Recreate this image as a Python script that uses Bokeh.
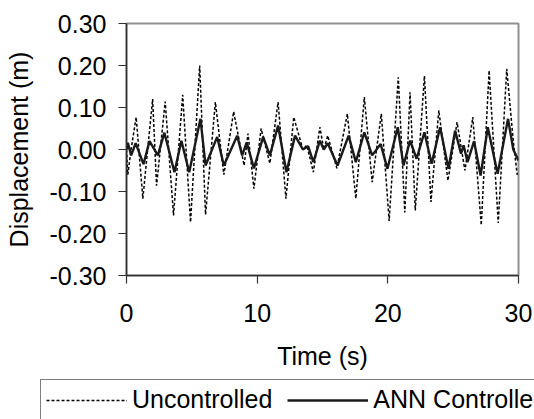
from bokeh.plotting import figure
from bokeh.layouts import column
from bokeh.models import Range1d, FixedTicker, PrintfTickFormatter, Legend, LegendItem
from bokeh.embed import file_html
from bokeh.resources import INLINE

# Uncontrolled displacement (m), read at extrema
t_unc = [0.0, 0.1, 0.35, 0.74, 1.25, 2.0, 2.3, 2.96, 3.6, 4.3, 4.9, 5.6, 6.05, 6.8, 7.45,
         8.2, 9.0, 9.3, 9.75, 10.3, 10.97, 11.6, 12.2, 12.8, 13.5, 13.8, 14.3, 14.8, 15.1,
         15.4, 16.1, 16.9, 17.55, 18.2, 18.8, 19.5, 20.1, 20.8, 21.3, 21.7, 22.1, 22.8,
         23.3, 23.9, 24.6, 25.3, 25.9, 26.5, 27.15, 27.75, 28.45, 29.1, 29.6, 29.9, 30.0]
y_unc = [0.0, -0.06, 0.0, 0.077, -0.117, 0.12, -0.086, 0.114, -0.157, 0.13, -0.173, 0.20,
         -0.155, 0.113, -0.06, 0.09, -0.038, 0.038, -0.093, 0.05, -0.033, 0.113, -0.117,
         0.077, 0.0, 0.01, -0.054, 0.053, 0.0, 0.033, -0.045, 0.085, -0.117, 0.125, -0.078,
         0.085, -0.17, 0.172, -0.15, 0.136, -0.145, 0.175, -0.125, 0.093, -0.074, 0.065,
         -0.05, 0.077, -0.18, 0.188, -0.175, 0.192, 0.02, -0.06, -0.055]

# ANN controlled displacement (m), read at extrema
t_ann = [0.0, 0.1, 0.36, 0.7, 1.3, 1.76, 2.4, 2.9, 3.67, 4.2, 4.8, 5.66, 6.05, 6.94, 7.45,
         8.47, 8.85, 9.2, 9.75, 10.46, 10.97, 11.6, 12.24, 12.9, 13.5, 13.9, 14.3, 14.8,
         15.1, 15.4, 16.15, 17.0, 17.55, 18.2, 18.8, 19.45, 19.97, 20.76, 21.2, 21.7, 22.2,
         22.8, 23.35, 24.0, 24.64, 25.15, 25.6, 25.8, 26.1, 26.6, 27.1, 27.65, 28.4, 29.2,
         29.6, 30.0]
y_ann = [0.0, 0.016, -0.014, 0.015, -0.035, 0.02, -0.014, 0.04, -0.054, 0.021, -0.054, 0.073,
         -0.038, 0.03, -0.038, 0.033, -0.014, 0.017, -0.045, 0.03, -0.014, 0.057, -0.054,
         0.033, 0.0, 0.008, -0.03, 0.021, 0.0, 0.015, -0.038, 0.033, -0.03, 0.041, -0.014,
         0.013, -0.046, 0.053, -0.038, 0.021, -0.022, 0.041, -0.034, 0.053, -0.046, 0.045,
         -0.01, 0.01, -0.03, 0.02, -0.062, 0.053, -0.058, 0.073, 0.0, -0.026]

x_ticks = [0, 10, 20, 30]
y_ticks = [-0.3, -0.2, -0.1, 0.0, 0.1, 0.2, 0.3]
series_names = ["Uncontrolled", "ANN Controlled"]

FONT = "Liberation Sans"
FS = "25px"
UNC_STYLE = dict(line_color="black", line_width=1.5, line_dash="3 2")
ANN_STYLE = dict(line_color="#1a1a1a", line_width=2.4)

p = figure(width=534, height=377, output_backend="svg", toolbar_location=None,
           x_range=Range1d(0, 30), y_range=Range1d(-0.3, 0.3),
           min_border_left=126, min_border_right=16, min_border_top=23,
           min_border_bottom=102)
p.frame_align = False
p.xgrid.visible = False
p.ygrid.visible = False
p.outline_line_color = "#909090"
p.outline_line_width = 2

p.line(t_unc, y_unc, **UNC_STYLE)
p.line(t_ann, y_ann, **ANN_STYLE)

for ax in (p.xaxis[0], p.yaxis[0]):
    ax.axis_line_color = "#303030"
    ax.axis_line_width = 1.5
    ax.major_tick_line_color = "#303030"
    ax.major_tick_line_width = 1.2
    ax.major_tick_out = 8
    ax.major_tick_in = 0
    ax.minor_tick_line_color = None
    ax.major_label_text_font = FONT
    ax.major_label_text_font_size = FS
    ax.major_label_text_color = "black"
    ax.axis_label_text_font = FONT
    ax.axis_label_text_font_size = FS
    ax.axis_label_text_font_style = "normal"
    ax.axis_label_text_color = "black"

p.xaxis.ticker = FixedTicker(ticks=x_ticks)
p.yaxis.ticker = FixedTicker(ticks=y_ticks)
p.yaxis.formatter = PrintfTickFormatter(format="%.2f")
p.xaxis.major_label_standoff = 20
p.yaxis.major_label_standoff = 12
p.xaxis.axis_label = "Time (s)"
p.yaxis.axis_label = "Displacement (m)"
p.xaxis.axis_label_standoff = 17
p.yaxis.axis_label_standoff = 14

# Legend strip below the chart
q = figure(width=534, height=42, output_backend="svg", toolbar_location=None,
           x_range=Range1d(0, 30), y_range=Range1d(5, 6),
           x_axis_location=None, y_axis_location=None, min_border=0)
q.frame_align = False
q.xgrid.visible = False
q.ygrid.visible = False
q.outline_line_color = None
l_unc = q.line(t_unc, y_unc, **UNC_STYLE)
l_ann = q.line(t_ann, y_ann, **ANN_STYLE)
legend = Legend(items=[LegendItem(label=series_names[0], renderers=[l_unc]),
                       LegendItem(label=series_names[1], renderers=[l_ann])],
                orientation="horizontal", location=(40, -1),
                glyph_width=81, label_standoff=5, spacing=15, padding=5, margin=0,
                label_text_font=FONT, label_text_font_size=FS, label_text_color="black",
                border_line_color="black", border_line_width=1,
                background_fill_color="white", background_fill_alpha=1)
q.add_layout(legend, "center")

open("out.html", "w").write(file_html(column(p, q, spacing=0), INLINE))
